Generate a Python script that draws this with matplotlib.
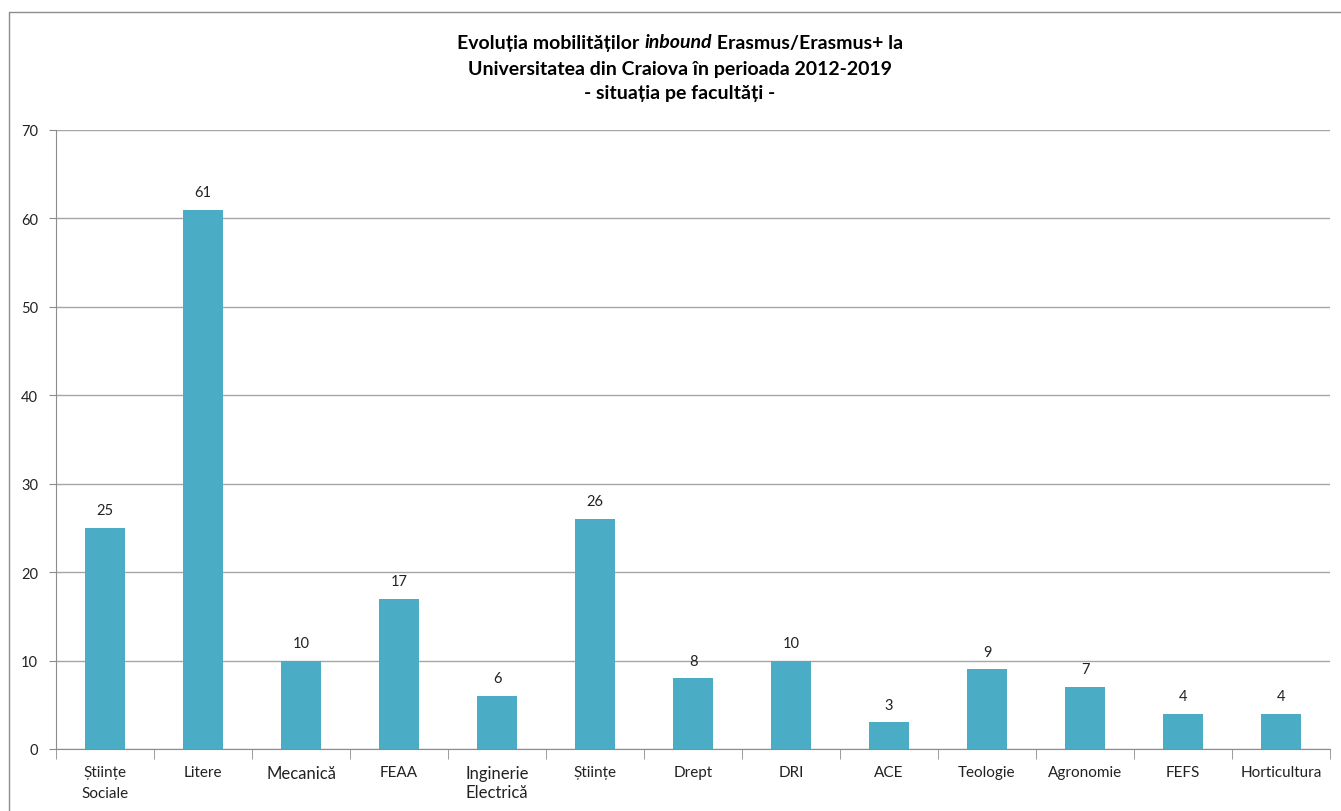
import matplotlib
matplotlib.use("Agg")
import matplotlib.pyplot as plt
import numpy as np
from matplotlib.patches import Rectangle

categories = ["Științe\nSociale", "Litere", "Mecanică", "FEAA", "Inginerie\nElectrică",
              "Științe", "Drept", "DRI", "ACE", "Teologie", "Agronomie", "FEFS", "Horticultura"]
values = [25, 61, 10, 17, 6, 26, 8, 10, 3, 9, 7, 4, 4]
yticks = [0, 10, 20, 30, 40, 50, 60, 70]

plt.rcParams['font.family'] = ['Lato', 'DejaVu Sans']

fig = plt.figure(figsize=(13.41, 8.12), dpi=100)
fig.patches.append(Rectangle((9/1341, -0.01), 1.0, 1 - 13/812 + 0.01, transform=fig.transFigure,
                             fill=False, edgecolor='#8c8c8c', linewidth=1.0))
ax = fig.add_axes([56/1341, 62/812, (1330-56)/1341, (750-131)/812])

x = np.arange(len(values))
ax.bar(x, values, width=0.4, color='#4BACC6', zorder=3)
for xi, v in zip(x, values):
    ax.text(xi, v + 1.2, str(v), ha='center', va='bottom', fontsize=10.5, color='#222222')

ax.set_xlim(-0.5, len(values) - 0.5)
ax.set_ylim(0, 70)
ax.set_yticks(yticks)
ax.set_yticklabels([str(t) for t in yticks], fontsize=10.5)
ax.yaxis.grid(True, color='#a6a6a6', linewidth=1.0, zorder=0)
ax.set_axisbelow(True)
ax.set_xticks(x)
ax.set_xticklabels([])
ax.tick_params(axis='x', which='major', length=0)
ax.set_xticks(np.arange(-0.5, len(values), 1.0), minor=True)
ax.tick_params(axis='x', which='minor', length=7, color='#8c8c8c', direction='out')
ax.tick_params(axis='y', length=5, color='#8c8c8c', pad=8, labelcolor='#222222')
for xi, lab in zip(x, categories):
    fs = 12 if lab in ("Mecanică", "Inginerie\nElectrică") else 11
    ax.text(xi, -1.8, lab, ha='center', va='top', fontsize=fs, color='#222222',
            linespacing=1.6 if fs == 11 else 1.25, transform=ax.transData)
for s in ['top', 'right']:
    ax.spines[s].set_visible(False)
ax.spines['left'].set_color('#8c8c8c')
ax.spines['bottom'].set_color('#8c8c8c')

# Title with italic word
renderer = fig.canvas.get_renderer()
parts = [("Evoluția mobilităților ", 'normal'), ("inbound", 'italic'), (" Erasmus/Erasmus+ la", 'normal')]
texts = [fig.text(0, 0, p, fontsize=14, fontweight='bold', style=st, va='center') for p, st in parts]
widths = [t.get_window_extent(renderer).width for t in texts]
start = 680 - sum(widths) / 2
cx = start
for t, w in zip(texts, widths):
    t.set_position((cx / 1341, 1 - 43 / 812))
    cx += w
fig.text(680 / 1341, 1 - 69 / 812, "Universitatea din Craiova în perioada 2012-2019",
         fontsize=14, fontweight='bold', ha='center', va='center')
fig.text(680 / 1341, 1 - 94 / 812, "- situația pe facultăți -",
         fontsize=14, fontweight='bold', ha='center', va='center')

fig.savefig("out.png", dpi=100)
